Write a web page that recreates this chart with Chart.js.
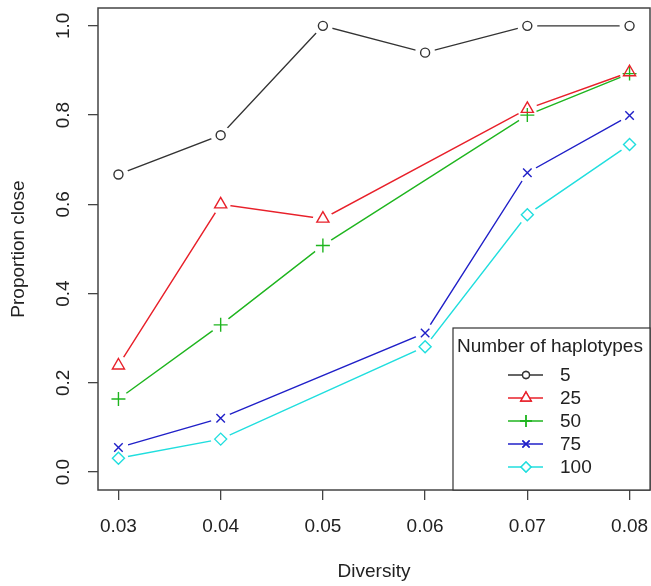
<!DOCTYPE html>
<html lang="en">
<head>
<meta charset="UTF-8">
<title>Proportion close vs diversity</title>
<script src="https://cdn.jsdelivr.net/npm/chart.js"></script>
<style>
  html, body { margin: 0; padding: 0; background: #fff; }
  #wrap { width: 651px; height: 586px; }
</style>
</head>
<body>
<div id="wrap"><canvas id="grafico" width="651" height="586"></canvas></div>
<script>
  // values (null = no point drawn)
  const diversity = [0.03, 0.04, 0.05, 0.06, 0.07, 0.08];
  const seriesNames = ["5", "25", "50", "75", "100"];
  const hap5   = [0.667, 0.755, 1.0,   0.94,  1.0,   1.0];
  const hap25  = [0.239, 0.60,  0.568, null,  0.814, 0.896];
  const hap50  = [0.164, 0.33,  0.508, null,  0.80,  0.893];
  const hap75  = [0.055, 0.121, null,  0.312, 0.671, 0.799];
  const hap100 = [0.031, 0.074, null,  0.281, 0.577, 0.734];
  const yTicks = [0.0, 0.2, 0.4, 0.6, 0.8, 1.0];

  const FONT = "'Liberation Sans', Arial, sans-serif";
  const cores = ["#333333", "#e8202a", "#1fb51f", "#2020c8", "#20dede"];
  const estilos = ["circle", "triangle", "cross", "crossRot", "rectRot"];
  const raios = [4.5, 7, 7, 6, 6];
  const valores = [hap5, hap25, hap50, hap75, hap100];
  const GAP = 10; // R type="b": lines stop short of the points

  function pontos(vals) {
    return diversity.map(function (d, i) { return { x: d, y: vals[i] }; });
  }

  // one dataset for the lines, one for the markers, per series
  let datasets = [];
  for (let i = 0; i < seriesNames.length; i++) {
    datasets.push({
      label: seriesNames[i],
      data: pontos(valores[i]),
      borderColor: cores[i],
      borderWidth: 1.4,
      pointRadius: 0,
      spanGaps: true,
      tension: 0,
      order: 2,
      isLine: true
    });
  }
  for (let i = 0; i < seriesNames.length; i++) {
    datasets.push({
      label: seriesNames[i] + " pts",
      data: pontos(valores[i]),
      showLine: false,
      pointStyle: estilos[i],
      pointRadius: raios[i],
      pointBorderColor: cores[i],
      pointBackgroundColor: "rgba(0,0,0,0)",
      pointBorderWidth: 1.4,
      order: 1
    });
  }

  // cut holes round the points before each line is drawn
  const furos = {
    id: "furos",
    beforeDatasetDraw(chart, args) {
      const ds = chart.data.datasets[args.index];
      if (!ds.isLine) return;
      const ctx = chart.ctx;
      ctx.save();
      ctx.beginPath();
      ctx.rect(0, 0, chart.width, chart.height);
      args.meta.data.forEach(function (p) {
        if (p.skip) return;
        ctx.moveTo(p.x + GAP, p.y);
        ctx.arc(p.x, p.y, GAP, 0, Math.PI * 2);
      });
      ctx.clip("evenodd");
    },
    afterDatasetDraw(chart, args) {
      const ds = chart.data.datasets[args.index];
      if (!ds.isLine) return;
      chart.ctx.restore();
    }
  };

  // box round the plot, tick labels like R and legend drawn inside the plot
  const extras = {
    id: "extras",
    afterDraw(chart) {
      const ctx = chart.ctx;
      const a = chart.chartArea;
      ctx.save();
      ctx.strokeStyle = "#444";
      ctx.lineWidth = 1.5;
      ctx.strokeRect(a.left, a.top, a.right - a.left, a.bottom - a.top);

      ctx.fillStyle = "#222";
      ctx.font = "19px " + FONT;
      ctx.textAlign = "center";
      ctx.textBaseline = "middle";

      // x tick labels
      const xs = chart.scales.x;
      diversity.forEach(function (d) {
        ctx.fillText(d.toFixed(2), xs.getPixelForValue(d), 527);
      });

      // y tick labels, rotated
      const ys = chart.scales.y;
      yTicks.forEach(function (t) {
        ctx.save();
        ctx.translate(64, ys.getPixelForValue(t));
        ctx.rotate(-Math.PI / 2);
        ctx.fillText(t.toFixed(1), 0, 0);
        ctx.restore();
      });

      // legend
      const lx = 453, ly = 328, lw = a.right - lx, lh = a.bottom - ly;
      ctx.fillStyle = "#fff";
      ctx.fillRect(lx, ly, lw, lh);
      ctx.strokeStyle = "#333";
      ctx.lineWidth = 1.2;
      ctx.strokeRect(lx, ly, lw, lh);
      ctx.fillStyle = "#222";
      ctx.textAlign = "left";
      ctx.font = "19px " + FONT;
      ctx.fillText("Number of haplotypes", lx + 4, ly + 19);
      const linhas = chart.data.datasets.filter(function (d) { return d.isLine; });
      linhas.forEach(function (ds, i) {
        const yy = ly + 47 + i * 23;
        ctx.strokeStyle = ds.borderColor;
        ctx.lineWidth = 1.4;
        ctx.beginPath();
        ctx.moveTo(508, yy);
        ctx.lineTo(543, yy);
        ctx.stroke();
        ctx.fillStyle = "#fff";
        Chart.helpers.drawPoint(ctx, {
          pointStyle: estilos[i], radius: raios[i] - 1, borderWidth: 1.4, rotation: 0
        }, 526, yy);
        ctx.fill();
        ctx.stroke();
        ctx.fillStyle = "#222";
        ctx.font = "19px " + FONT;
        ctx.fillText(ds.label, 560, yy + 1);
      });
      ctx.restore();
    }
  };

  const config = {
    type: "line",
    data: { datasets: datasets },
    options: {
      responsive: false,
      animation: false,
      layout: { autoPadding: false, padding: { top: 8, right: 1, left: 0, bottom: 0 } },
      plugins: { legend: { display: false }, tooltip: { enabled: false } },
      scales: {
        x: {
          type: "linear",
          min: 0.028,
          max: 0.082,
          afterBuildTicks: function (s) { s.ticks = diversity.map(function (v) { return { value: v }; }); },
          afterFit: function (s) { s.height = 96; },
          grid: { drawOnChartArea: false, tickLength: 10, color: "#444", lineWidth: 1.3 },
          border: { display: false },
          ticks: { display: false },
          title: { display: true, text: "Diversity", color: "#222", font: { family: FONT, size: 19 }, padding: { top: 0, bottom: 3 } }
        },
        y: {
          type: "linear",
          min: -0.04,
          max: 1.04,
          afterBuildTicks: function (s) { s.ticks = yTicks.map(function (v) { return { value: v }; }); },
          afterFit: function (s) { s.width = 98; },
          grid: { drawOnChartArea: false, tickLength: 10, color: "#444", lineWidth: 1.3 },
          border: { display: false },
          ticks: { display: false },
          title: { display: true, text: "Proportion close", color: "#222", font: { family: FONT, size: 19 }, padding: { top: 7, bottom: 0 } }
        }
      }
    },
    plugins: [furos, extras]
  };

  new Chart(document.getElementById("grafico"), config);
</script>
</body>
</html>
